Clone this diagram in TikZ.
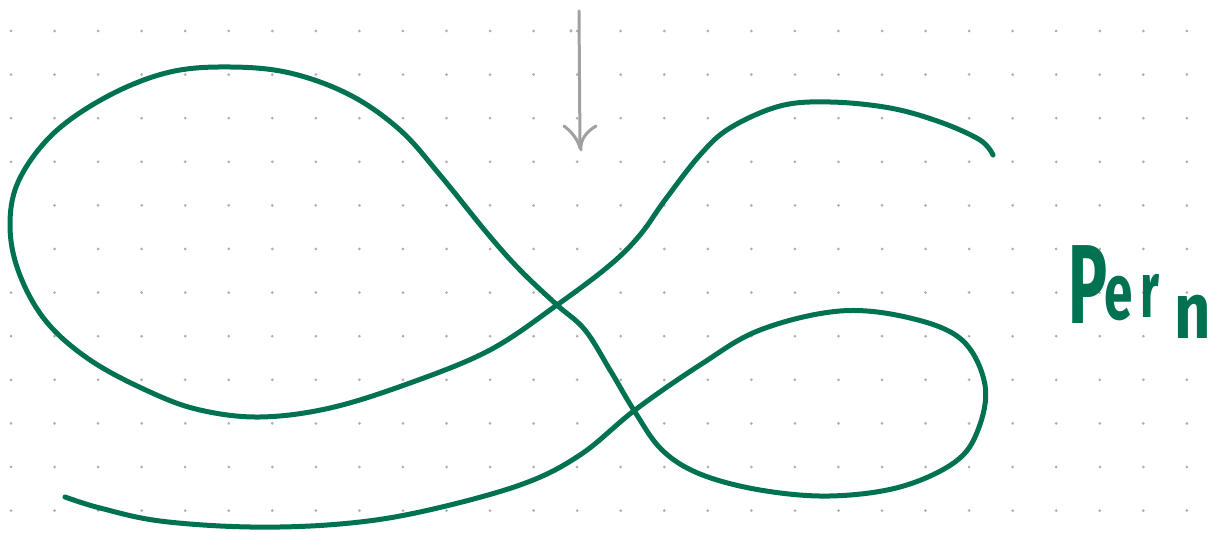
\documentclass[tikz,border=0pt]{standalone}
\usepackage{fontspec}
\usepackage{graphicx}
\setmainfont{Fira Sans}
\definecolor{inkgreen}{RGB}{0,114,82}
\definecolor{dotgray}{RGB}{175,175,175}
\definecolor{arrowgray}{RGB}{160,160,160}
\begin{document}
\begin{tikzpicture}[x=0.02cm,y=-0.02cm,
  griddot/.style={fill=dotgray,draw=none},
  inkline/.style={draw=inkgreen,line width=0.1cm,line cap=round,line join=round},
  pencil/.style={draw=arrowgray,line width=0.06cm,line cap=round},
  bigletter/.style={text=inkgreen,inner sep=0pt,anchor=base west,font=\fontsize{64}{66}\selectfont\bfseries},
  smallletter/.style={text=inkgreen,inner sep=0pt,anchor=base west,font=\fontsize{45}{47}\selectfont\bfseries}]
\useasboundingbox (0,0) rectangle (1218,533);
\fill[white] (0,0) rectangle (1218,533);
% dot grid
\foreach \i in {0,...,27}{
  \foreach \j in {0,...,11}{
    \fill[griddot] (11+43.55*\i,31+43.6*\j) circle (0.03cm);
  }
}
\fill[griddot] (571,31) circle (0.035cm);
% arrow
\coordinate (atop) at (579,11);
\coordinate (atip) at (580,148);
\draw[pencil] (atop) -- (atip);
\draw[pencil] (564,126) .. controls (572,132) and (578,140) .. (atip);
\draw[pencil] (596,126) .. controls (586,132) and (580,140) .. (581,150);
% curve
\draw[inkline] plot[smooth,tension=0.6] coordinates {
(65,497) (100,508) (160,521) (250,527) (340,524) (420,512) (520,485) (580,455)
(635,410) (700,365) (760,330) (840,311) (910,318) (962,340) (985,385) (978,430)
(955,462) (900,487) (830,496) (760,490) (700,474) (662,450) (635,412) (610,370)
(585,330) (557,305) (520,270) (487,233) (440,175) (400,130) (350,95) (290,73)
(230,67) (170,72) (110,95) (55,132) (20,178) (10,222) (18,270) (45,320) (90,360)
(150,392) (200,410) (260,417) (330,408) (410,383) (490,350) (557,305) (610,265)
(640,235) (665,200) (700,155) (730,128) (780,106) (830,102) (890,108) (940,122)
(980,140) (993,155)};
% text
\node[bigletter] (tp) at (1068,324) {\scalebox{0.58}[1]{P}};
\node[smallletter] (te) at (1104,320) {\scalebox{0.65}[1]{e}};
\node[smallletter] (tr) at (1140,318) {\scalebox{0.6}[1]{r}};
\node[smallletter] (tn) at (1174,339) {\scalebox{0.8}[1]{n}};
\end{tikzpicture}
\end{document}
